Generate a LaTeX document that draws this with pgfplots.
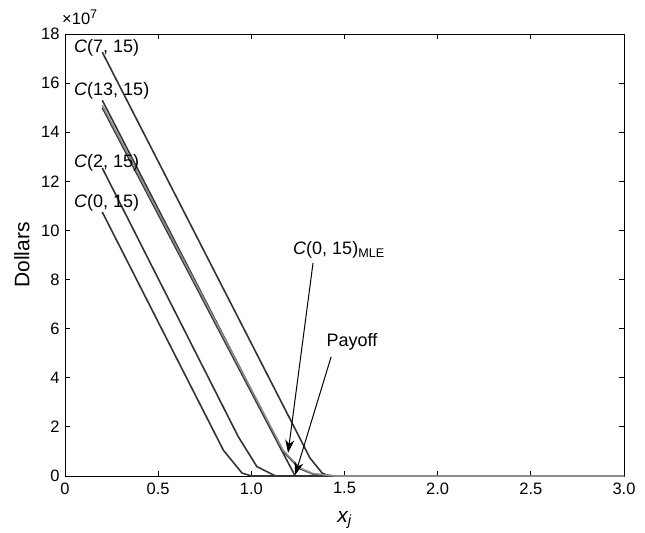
\documentclass[border=0pt]{standalone}
\usepackage{fontspec}
\setmainfont{Liberation Sans}
\usepackage{pgfplots}
\pgfplotsset{compat=1.18}
\usetikzlibrary{arrows.meta}
\definecolor{dk}{HTML}{333333}
\definecolor{gr}{HTML}{8C8C8C}
\begin{document}
\begin{tikzpicture}
\path[use as bounding box] (-65bp,-57bp) rectangle (580bp,476bp);
\begin{axis}[
  at={(0,0)}, anchor=south west,
  scale only axis, width=559bp, height=442bp,
  xmin=0, xmax=3, ymin=0, ymax=18,
  xtick={0,0.5,1,1.5,2,2.5,3},
  xticklabels={0,0.5,1.0,1.5,2.0,2.5,3.0},
  ytick={0,2,4,6,8,10,12,14,16,18},
  tick align=inside, tickpos=both,
  major tick length=5bp,
  axis line style={black, line width=0.9bp},
  every tick/.style={black, line width=0.9bp},
  /pgf/number format/assume math mode=true,
  tick label style={font=\fontsize{16.5bp}{19bp}\selectfont},
  xticklabel style={yshift=-3bp},
  yticklabel style={xshift=-2bp},
  xlabel={\fontsize{21bp}{24bp}\selectfont\itshape x\textsubscript{j}},
  ylabel={\fontsize{21bp}{24bp}\selectfont Dollars},
  xlabel style={at={(axis description cs:0.5,-0.0995)}, anchor=center},
  ylabel style={at={(axis description cs:-0.077,0.5)}, anchor=center},
  clip=false,
]
% C(0,15)
\addplot[dk, line width=1.6bp] coordinates {(0.2,10.75) (0.85,1.05) (0.95,0.12) (1.0,0) (3.0,0)};
% C(2,15)
\addplot[dk, line width=1.6bp] coordinates {(0.2,12.54) (0.93,1.6) (1.03,0.38) (1.13,0) (3.0,0)};
% C(7,15)
\addplot[dk, line width=1.6bp] coordinates {(0.2,17.26) (1.315,0.73) (1.38,0.12) (1.42,0) (3.0,0)};
% C(13,15)
\addplot[dk, line width=1.6bp] coordinates {(0.2,15.3) (1.17,1.0) (1.26,0.3) (1.33,0.08) (1.45,0) (3.0,0)};
% Payoff
\addplot[dk, line width=1.6bp] coordinates {(0.2,15.0) (1.235,0) (3.0,0)};
% C(0,15) MLE
\addplot[gr, line width=1.6bp] coordinates {(0.2,15.1) (1.17,1.05) (1.26,0.33) (1.33,0.1) (1.45,0) (3.0,0)};

\node[anchor=west, font=\fontsize{18bp}{21bp}\selectfont, inner sep=0pt] at (axis cs:0.048,17.43) {\textit{C}(7, 15)};
\node[anchor=west, font=\fontsize{18bp}{21bp}\selectfont, inner sep=0pt] at (axis cs:0.048,15.68) {\textit{C}(13, 15)};
\node[anchor=west, font=\fontsize{18bp}{21bp}\selectfont, inner sep=0pt] at (axis cs:0.048,12.74) {\textit{C}(2, 15)};
\node[anchor=west, font=\fontsize{18bp}{21bp}\selectfont, inner sep=0pt] at (axis cs:0.048,11.12) {\textit{C}(0, 15)};
\node[anchor=center, font=\fontsize{18bp}{21bp}\selectfont, inner sep=0pt] at (axis cs:1.47,9.2) {\textit{C}(0, 15)\textsubscript{MLE}};
\node[anchor=center, font=\fontsize{18bp}{21bp}\selectfont, inner sep=0pt] at (axis cs:1.54,5.46) {Payoff};
\draw[black, line width=1bp, -{Stealth[length=13bp,width=9bp,inset=4bp]}] (axis cs:1.331,8.67) -- (axis cs:1.197,0.94);
\draw[black, line width=1bp, -{Stealth[length=13bp,width=9bp,inset=4bp]}] (axis cs:1.428,4.85) -- (axis cs:1.235,0.04);
\node[anchor=base west, inner sep=0pt, font=\fontsize{16.5bp}{19bp}\selectfont] at ([xshift=-3bp,yshift=9bp]rel axis cs:0,1) {×10\raisebox{6bp}{\fontsize{12.5bp}{14bp}\selectfont 7}};
\end{axis}
\end{tikzpicture}
\end{document}
